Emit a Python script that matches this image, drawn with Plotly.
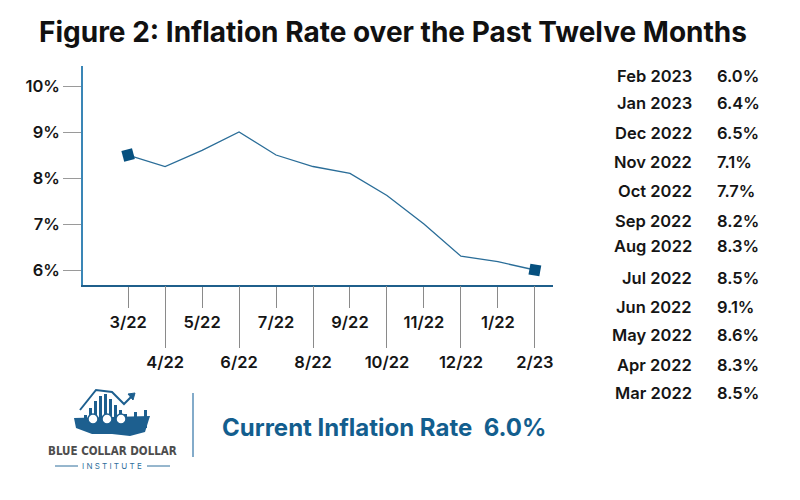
import plotly.graph_objects as go

# ---- data ----
months = ["3/22", "4/22", "5/22", "6/22", "7/22", "8/22", "9/22",
          "10/22", "11/22", "12/22", "1/22", "2/23"]
rates = [8.5, 8.25, 8.6, 9.0, 8.5, 8.25, 8.1, 7.62, 7.0, 6.3, 6.18, 6.0]
y_ticks = [6, 7, 8, 9, 10]
y_tick_text = ["6%", "7%", "8%", "9%", "10%"]
table_months = ["Feb 2023", "Jan 2023", "Dec 2022", "Nov 2022", "Oct 2022", "Sep 2022",
                "Aug 2022", "Jul 2022", "Jun 2022", "May 2022", "Apr 2022", "Mar 2022"]
table_values = ["6.0%", "6.4%", "6.5%", "7.1%", "7.7%", "8.2%",
                "8.3%", "8.5%", "9.1%", "8.6%", "8.3%", "8.5%"]
current_rate = "6.0%"

# ---- layout geometry (page pixels; page body has an 8px margin) ----
OFF = 8
W, H = 800 - 2 * OFF, 500 - 2 * OFF
L, R, T, B = 83, 553, 66, 285


def px(x):
    return (x - L) / (R - L)


def py(y):
    return (B - y) / (B - T)


idx = list(range(len(months)))
even_idx = idx[0::2]
odd_idx = idx[1::2]
x_range = [-1.22, 11.49]
FONT = "Inter, Roboto, Arial, sans-serif"

end_idx = [idx[0], idx[-1]]
end_rates = [rates[0], rates[-1]]

fig = go.Figure()
# line (on the main x axis)
fig.add_trace(go.Scatter(
    x=idx, y=rates, mode="lines",
    line=dict(color="#2a6d98", width=1.3),
    hoverinfo="skip", showlegend=False, xaxis="x", yaxis="y"))
# end markers (on the overlaid axis, drawn on top)
fig.add_trace(go.Scatter(
    x=end_idx, y=end_rates, mode="markers",
    marker=dict(symbol="square", size=11, angle=[-15, 10], color="#06507f",
                opacity=1, line=dict(width=0)),
    hoverinfo="skip", showlegend=False, xaxis="x2", yaxis="y"))

tickfont = dict(family=FONT, size=16.5, color="#151515", weight=600)

fig.update_layout(
    width=W, height=H,
    margin=dict(l=L - OFF, r=W - (R - OFF), t=T - OFF, b=H - (B - OFF), pad=0),
    paper_bgcolor="white", plot_bgcolor="white",
    xaxis=dict(range=x_range, tickmode="array", tickvals=even_idx,
               ticktext=[months[i] for i in even_idx],
               ticks="outside", ticklen=21, tickwidth=1, tickcolor="#8a8a8a",
               showline=True, linecolor="#1f5f8b", linewidth=1.5,
               showgrid=False, zeroline=False, tickfont=tickfont, fixedrange=True),
    xaxis2=dict(range=x_range, overlaying="x", anchor="y", side="bottom",
                tickmode="array", tickvals=odd_idx,
                ticktext=[months[i] for i in odd_idx],
                ticks="outside", ticklen=62, tickwidth=1, tickcolor="#8a8a8a",
                showline=False, showgrid=False, zeroline=False, tickfont=tickfont),
    yaxis=dict(range=[5.674, 10.435], tickmode="array", tickvals=y_ticks,
               ticktext=y_tick_text, ticks="outside", ticklen=18, tickwidth=1,
               tickcolor="#9a9a9a", showline=True, linecolor="#3a86b6", linewidth=1.5,
               showgrid=False, zeroline=False, tickfont=tickfont),
)

ann = []
# title
ann.append(dict(text="Figure 2: Inflation Rate over the Past Twelve Months",
                x=px(393), y=py(32), xref="paper", yref="paper",
                xanchor="center", yanchor="middle", showarrow=False,
                font=dict(family=FONT, size=28, color="#111111", weight=700)))
# right-hand table
row_y = [76, 103, 133, 162, 191, 221, 246, 278, 307, 335, 365, 393]
for m, v, yy in zip(table_months, table_values, row_y):
    ann.append(dict(text=m, x=px(694), y=py(yy), xref="paper", yref="paper",
                    xanchor="right", yanchor="middle", showarrow=False,
                    font=dict(family=FONT, size=16.5, color="#151515", weight=600)))
    ann.append(dict(text=v, x=px(715), y=py(yy), xref="paper", yref="paper",
                    xanchor="left", yanchor="middle", showarrow=False,
                    font=dict(family=FONT, size=16.5, color="#151515", weight=600)))
# current rate
ann.append(dict(text="Current Inflation Rate\u00a0\u00a0" + current_rate,
                x=px(220), y=py(427), xref="paper", yref="paper",
                xanchor="left", yanchor="middle", showarrow=False,
                font=dict(family=FONT, size=24, color="#135e8e", weight=700)))
# logo text
ann.append(dict(text="BLUE COLLAR DOLLAR", x=px(112), y=py(451), xref="paper", yref="paper",
                xanchor="center", yanchor="middle", showarrow=False,
                font=dict(family="DejaVu Sans Condensed, Liberation Sans Narrow, Roboto, sans-serif",
                          size=11.5, color="#4d4d4d", weight=700)))
ann.append(dict(text="I N S T I T U T E", x=px(112), y=py(466), xref="paper", yref="paper",
                xanchor="center", yanchor="middle", showarrow=False,
                font=dict(family=FONT, size=8, color="#2f6f9c")))
fig.update_layout(annotations=ann)

shapes = []
# divider line
shapes.append(dict(type="line", xref="paper", yref="paper",
                   x0=px(193), x1=px(193), y0=py(393), y1=py(457),
                   line=dict(color="#5a8fb8", width=1.5)))
# logo "institute" dashes
for a, b in [(55, 78), (147, 170)]:
    shapes.append(dict(type="line", xref="paper", yref="paper",
                       x0=px(a), x1=px(b), y0=py(466), y1=py(466),
                       line=dict(color="#2f6f9c", width=1)))
# logo icon (simplified): bars, trend arrow, map silhouette
logo_blue = "#1d5f8f"
bar_x = [84, 89, 94, 99, 104, 109, 114, 119, 124, 129, 134, 139, 144]
bar_top = [415, 408, 401, 396, 394, 399, 405, 410, 414, 417, 412, 418, 410]
for bx, bt in zip(bar_x, bar_top):
    shapes.append(dict(type="rect", xref="paper", yref="paper",
                       x0=px(bx), x1=px(bx + 3), y0=py(428), y1=py(bt),
                       fillcolor=logo_blue, line=dict(width=0)))
shapes.append(dict(type="path", xref="paper", yref="paper",
                   path="M {} {} L {} {} L {} {} L {} {} L {} {}".format(
                       px(80), py(410), px(96), py(390), px(112), py(392),
                       px(124), py(404), px(132), py(396)),
                   line=dict(color=logo_blue, width=2)))
shapes.append(dict(type="path", xref="paper", yref="paper",
                   path="M {} {} L {} {} L {} {} Z".format(
                       px(128), py(394), px(135), py(393), px(133), py(400)),
                   fillcolor=logo_blue, line=dict(color=logo_blue, width=1)))
shapes.append(dict(type="path", xref="paper", yref="paper",
                   path="M {} {} L {} {} L {} {} L {} {} L {} {} L {} {} L {} {} Z".format(
                       px(74), py(418), px(150), py(416), px(145), py(432),
                       px(130), py(436), px(112), py(434), px(92), py(434), px(76), py(428)),
                   fillcolor=logo_blue, line=dict(width=0)))
for hx in [93, 107, 121]:
    shapes.append(dict(type="circle", xref="paper", yref="paper",
                       x0=px(hx - 5), x1=px(hx + 5), y0=py(424), y1=py(414),
                       fillcolor="white", line=dict(color=logo_blue, width=1.5)))
fig.update_layout(shapes=shapes)

fig.write_html("out.html")
